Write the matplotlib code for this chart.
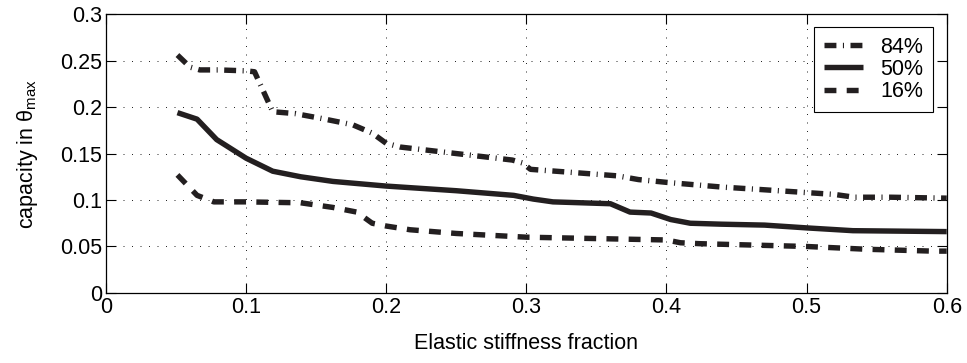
import numpy as np
import matplotlib
matplotlib.use('Agg')
import matplotlib.pyplot as plt

plt.rcParams['font.family'] = ['Liberation Sans', 'DejaVu Sans']
plt.rcParams['mathtext.fontset'] = 'custom'
plt.rcParams['mathtext.rm'] = 'Liberation Sans'
plt.rcParams['mathtext.it'] = 'Liberation Sans'

# data
x84 = [0.051, 0.06, 0.067, 0.08, 0.1, 0.106, 0.119, 0.135, 0.153, 0.176, 0.19, 0.2, 0.21,
       0.25, 0.29, 0.297, 0.303, 0.33, 0.365, 0.38, 0.4, 0.439, 0.47, 0.5, 0.52, 0.534, 0.56, 0.6]
y84 = [0.256, 0.243, 0.240, 0.240, 0.239, 0.238, 0.195, 0.193, 0.188, 0.181, 0.172, 0.161, 0.157,
       0.150, 0.143, 0.140, 0.133, 0.130, 0.126, 0.122, 0.119, 0.114, 0.111, 0.108, 0.106, 0.103, 0.103, 0.102]

x50 = [0.051, 0.065, 0.079, 0.1, 0.119, 0.139, 0.162, 0.2, 0.25, 0.291, 0.305, 0.319, 0.36,
       0.374, 0.389, 0.403, 0.417, 0.439, 0.47, 0.5, 0.533, 0.6]
y50 = [0.194, 0.187, 0.165, 0.145, 0.131, 0.125, 0.120, 0.115, 0.110, 0.105, 0.101, 0.098, 0.096,
       0.087, 0.086, 0.079, 0.075, 0.074, 0.073, 0.070, 0.067, 0.066]

x16 = [0.051, 0.065, 0.077, 0.1, 0.139, 0.162, 0.179, 0.19, 0.2, 0.217, 0.25, 0.3, 0.4,
       0.41, 0.424, 0.5, 0.543, 0.59, 0.6]
y16 = [0.127, 0.105, 0.098, 0.098, 0.097, 0.092, 0.087, 0.075, 0.072, 0.068, 0.064, 0.060, 0.057,
       0.054, 0.053, 0.050, 0.047, 0.045, 0.045]

labels = ['84%', '50%', '16%']

fig = plt.figure(figsize=(9.67, 3.63), dpi=100)
ax = fig.add_axes([0.1096, 0.193, 0.8694, 0.768])

lw = 3.9
col = '#231f20'
ax.plot(x84, y84, color=col, lw=lw, dashes=(2.2, 1.2, 0.2, 1.2), dash_capstyle='butt', label=labels[0])
ax.plot(x50, y50, color=col, lw=lw, solid_capstyle='butt', label=labels[1])
ax.plot(x16, y16, color=col, lw=lw, dashes=(2.2, 1.9), dash_capstyle='butt', label=labels[2])

fs = 15.5
ax.set_xlim(0, 0.6)
ax.set_ylim(0, 0.3)
ax.set_xticks(np.arange(0, 0.61, 0.1))
ax.set_yticks(np.arange(0, 0.301, 0.05))
ax.set_xticklabels(['0', '0.1', '0.2', '0.3', '0.4', '0.5', '0.6'])
ax.set_yticklabels(['0', '0.05', '0.1', '0.15', '0.2', '0.25', '0.3'])
ax.tick_params(direction='in', top=True, right=True, length=7, width=0.8, labelsize=fs,
               colors='black', pad=3)
ax.grid(True, linestyle=(0, (1.2, 9)), color='black', linewidth=0.6)
for s in ax.spines.values():
    s.set_linewidth(0.9)

ax.set_xlabel('Elastic stiffness fraction', fontsize=fs, labelpad=11)
ax.set_ylabel(r'capacity in $\mathrm{\theta}_{\mathrm{max}}$', fontsize=fs, labelpad=14)

leg = ax.legend(loc='upper right', fontsize=fs, fancybox=False, edgecolor='black',
                handlelength=1.8, handletextpad=0.8, borderpad=0.45, labelspacing=0.05,
                borderaxespad=0, framealpha=1, bbox_to_anchor=(0.9834, 0.953))
leg.get_frame().set_linewidth(0.8)

fig.savefig('out.png', dpi=100)
